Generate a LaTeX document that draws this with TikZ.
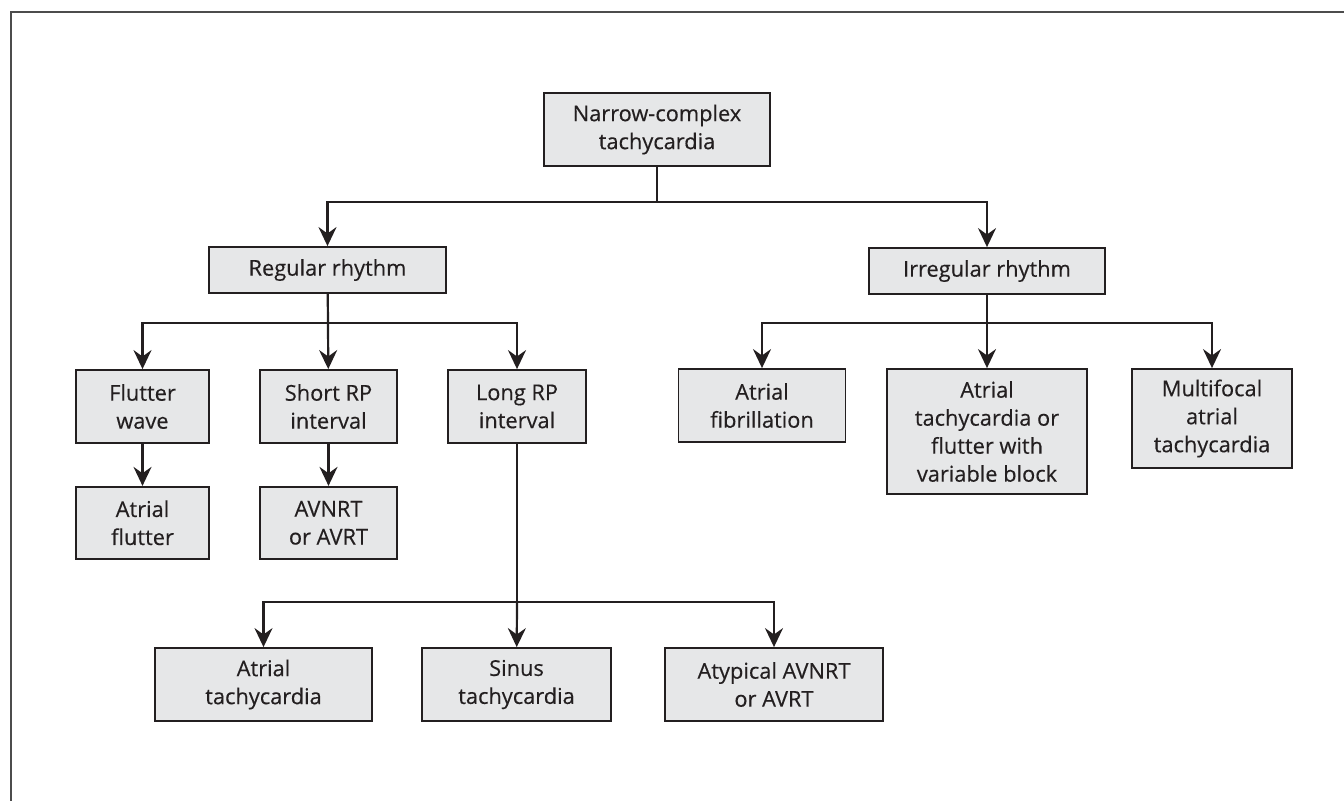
\documentclass[tikz,border=0pt]{standalone}
\usepackage{fontspec}
\setmainfont{Open Sans}[FakeBold=0.35]
\usepackage{tikz}
\usetikzlibrary{positioning}
\usetikzlibrary{arrows.meta}
\definecolor{boxgray}{HTML}{E6E7E8}
\definecolor{inkblack}{HTML}{231F20}
\tikzstyle{arrow} = [line width=1.1pt,draw=inkblack,-{Stealth[length=9.5pt,width=9pt,inset=3.2pt]}]
\tikzstyle{line} = [line width=1.1pt,draw=inkblack]
\tikzstyle{box} = [draw=inkblack,line width=0.9pt,fill=boxgray,text=inkblack,align=center,inner sep=2pt,font=\fontsize{10.9}{14}\selectfont]

\begin{document}
\begin{tikzpicture}[x=0.5pt,y=-0.5pt]
						\useasboundingbox (0,0) rectangle (1344,801);
						%Frame
						\draw[line width=1.2pt,draw=black!70] (1344,12) -- (11,12) -- (11,801);

						%Nodes
						\node (rect) [box,minimum width=113pt,minimum height=36.5pt] at (657,129.5) (nct) {Narrow-complex\\tachycardia};
						\node (rect) [box,minimum width=118.5pt,minimum height=23pt] at (327.5,270) (reg) {Regular rhythm};
						\node (rect) [box,minimum width=118pt,minimum height=23pt] at (987,271) (irr) {Irregular rhythm};

						\node (rect) [box,minimum width=66.5pt,minimum height=36.5pt] at (142.5,406.5) (flw) {Flutter\\wave};
						\node (rect) [box,minimum width=68.5pt,minimum height=36.5pt] at (328.5,406.5) (srp) {Short RP\\interval};
						\node (rect) [box,minimum width=69pt,minimum height=36.5pt] at (517,406.5) (lrp) {Long RP\\interval};
						\node (rect) [box,minimum width=66.5pt,minimum height=36pt,below=21pt of flw] (afl) {Atrial\\flutter};
						\node (rect) [box,minimum width=68.5pt,minimum height=36pt,below=21pt of srp] (avn) {AVNRT\\or AVRT};

						\node (rect) [box,minimum width=108.5pt,minimum height=36.5pt] at (263.5,684.5) (atc) {Atrial\\tachycardia};
						\node (rect) [box,minimum width=94.5pt,minimum height=36.5pt] at (516.5,684.5) (stc) {Sinus\\tachycardia};
						\node (rect) [box,minimum width=109pt,minimum height=36.5pt] at (774,684.5) (aty) {Atypical AVNRT\\or AVRT};

						\node (rect) [box,minimum width=83.5pt,minimum height=36.5pt] at (762,405.5) (afib) {Atrial\\fibrillation};
						\node (rect) [box,minimum width=100pt,minimum height=62.5pt] at (987,431.5) (atf) {Atrial\\tachycardia or\\flutter with\\variable block};
						\node (rect) [box,minimum width=80pt,minimum height=49.5pt] at (1212,418.5) (mat) {Multifocal\\atrial\\tachycardia};

						%Junctions
						\coordinate (j0) at (657,202);
						\coordinate (j1) at (328,323);
						\coordinate (j2) at (987,323);
						\coordinate (j3) at (517,602);

						%Lines
						\draw[line] (nct) -- (j0);
						\draw[arrow] (j0) -| (reg);
						\draw[arrow] (j0) -| (irr);

						\draw[line] (reg) -- (j1);
						\draw[arrow] (j1) -| (flw);
						\draw[arrow] (j1) -- (srp);
						\draw[arrow] (j1) -| (lrp);
						\draw[arrow] (flw) -- (afl);
						\draw[arrow] (srp) -- (avn);

						\draw[line] (lrp) -- (j3);
						\draw[arrow] (j3) -| (atc);
						\draw[arrow] (j3) -- (stc);
						\draw[arrow] (j3) -| (aty);

						\draw[line] (irr) -- (j2);
						\draw[arrow] (j2) -| (afib);
						\draw[arrow] (j2) -- (atf);
						\draw[arrow] (j2) -| (mat);
					\end{tikzpicture}
\end{document}
